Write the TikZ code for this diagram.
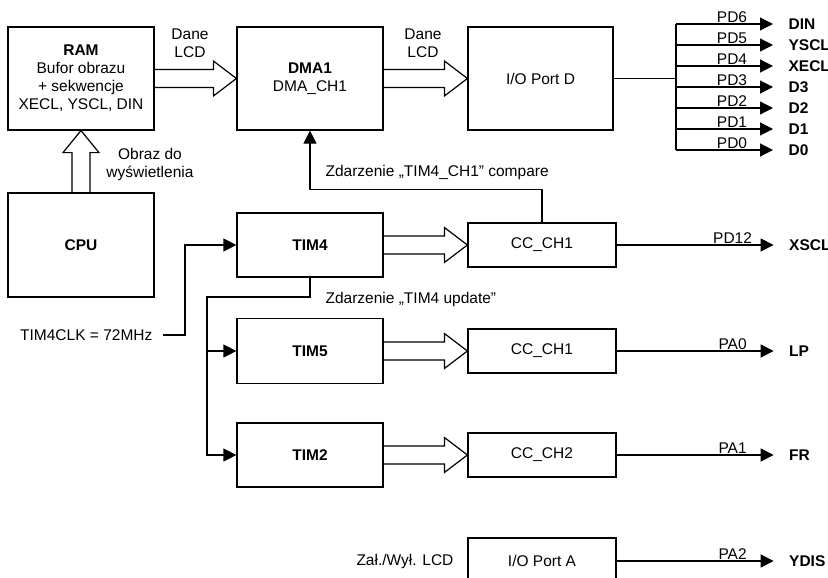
\documentclass[tikz,border=0pt]{standalone}
\usepackage{fontspec}
\setmainfont{Liberation Sans}
\usetikzlibrary{arrows.meta,calc}

\newcommand\fatright[2]{%
  \draw[fat] let \p1=(#1.east), \p2=(#2.west) in
    (\x1,\y2+9pt) -- (\x2-23pt,\y2+9pt) -- (\x2-23pt,\y2+17.5pt) -- (\p2)
    -- (\x2-23pt,\y2-17.5pt) -- (\x2-23pt,\y2-9pt) -- (\x1,\y2-9pt);}
\newcommand\fatup[2]{%
  \draw[fat] let \p1=(#1.north), \p2=(#2.south) in
    (\x2-9pt,\y1) -- (\x2-9pt,\y2-22pt) -- (\x2-18pt,\y2-22pt) -- (\p2)
    -- (\x2+18pt,\y2-22pt) -- (\x2+9pt,\y2-22pt) -- (\x2+9pt,\y1);}

\begin{document}
\begin{tikzpicture}[
    x=1pt, y=-1pt,
    line width=1.2pt,
    every node/.style={font=\fontsize{15.5}{18}\selectfont, inner sep=0pt},
    box/.style={draw, align=center, minimum width=146pt},
    sig/.style={font=\fontsize{15.5}{18}\selectfont\bfseries, anchor=west},
    portlbl/.style={anchor=south, inner sep=1pt},
    arr/.style={-{Triangle[length=13pt,width=13pt]}},
    fat/.style={line join=miter}
]
\useasboundingbox (0,0) rectangle (828,578);

\node[box, minimum height=103pt] (ram) at (81,78.5)
    {\textbf{RAM}\\Bufor obrazu\\+ sekwencje\\XECL, YSCL, DIN};
\node[box, minimum height=103pt] (dma) at (310,78.5)
    {\textbf{DMA1}\\DMA\_CH1};
\node[box, minimum width=145pt, minimum height=103pt] (portd) at (540.5,78.5)
    {I/O Port D};
\node[box, minimum height=104pt] (cpu) at (81,245) {\textbf{CPU}};

\node[box, minimum height=64pt] (tim4) at (310,245) {\textbf{TIM4}};
\node[box, minimum height=65pt] (tim5) at (310,351) {\textbf{TIM5}};
\node[box, minimum height=64pt] (tim2) at (310,455) {\textbf{TIM2}};

\node[box, minimum width=148pt, minimum height=44pt] (cc1) at (542,245) {CC\_CH1};
\node[box, minimum width=148pt, minimum height=44pt] (cca) at (542,351) {CC\_CH1};
\node[box, minimum width=148pt, minimum height=44pt] (ccb) at (542,455) {CC\_CH2};
\node[box, minimum width=148pt, minimum height=46pt] (porta) at (542,561) {I/O Port A};

\node[align=center] (dane1) at (190,43) {Dane\\LCD};
\node[align=center] (dane2) at (423,43) {Dane\\LCD};
\node[align=center] (obraz) at (150,164) {Obraz do\\wyświetlenia};
\node[anchor=west] (cmp) at (325,172) {Zdarzenie „TIM4\_CH1” compare};
\node[anchor=west] (upd) at (325,299) {Zdarzenie „TIM4 update”};
\node[anchor=east] (clk) at (153,335) {TIM4CLK = 72MHz};
\node[anchor=east] (onoff) at (454,561) {Zał./Wył. LCD};

\fatright{ram}{dma}
\fatright{dma}{portd}
\fatright{tim4}{cc1}
\fatright{tim5}{cca}
\fatright{tim2}{ccb}
\fatup{cpu}{ram}

\foreach \n/\s [count=\k from 0] in {6/DIN,5/YSCL,4/XECL,3/D3,2/D2,1/D1,0/D0}{
    \coordinate (b\n) at (676,24+21*\k);
    \node[sig] (o\n) at (788,24+21*\k) {\s};
    \node[portlbl] (l\n) at (732,24+21*\k) {PD\n};
    \draw[arr, shorten >=15pt] (b\n) -- (o\n);
}
\draw (b6) -- (b0);
\draw (portd.east) -- (portd.east -| b6);

\foreach \a/\s/\p in {cc1/XSCL/PD12,cca/LP/PA0,ccb/FR/PA1,porta/YDIS/PA2}{
    \path (\a.east) ++(172,0) node[sig] (o\s) {\s};
    \path (\a.east) ++(116,0) node[portlbl] (l\s) {\p};
    \draw[arr, shorten >=15pt] (\a.east) -- (o\s);
}

\draw[arr] (cc1.north) |- ([yshift=-59pt]dma.south) -- (dma.south);
\draw[arr] ([xshift=10pt]clk.east) -- ++(22,0) |- (tim4.west);
\coordinate (split) at (207,297);
\draw[arr] (tim4.south) |- (split) |- (tim2.west);
\draw[arr] (split |- tim5.west) -- (tim5.west);

\end{tikzpicture}
\end{document}
